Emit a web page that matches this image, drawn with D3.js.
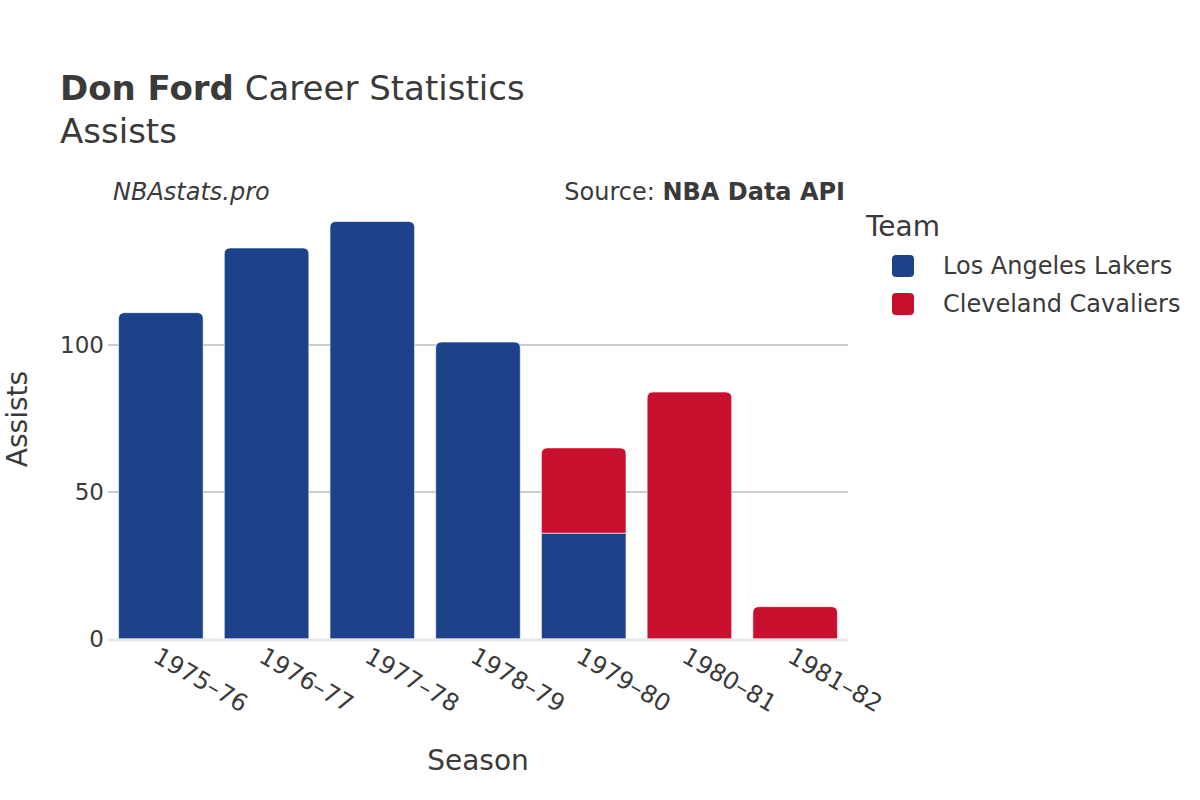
<!DOCTYPE html>
<html>
<head>
<meta charset="utf-8">
<script src="https://cdn.jsdelivr.net/npm/d3@7"></script>
<style>
  body { margin: 0; background: #fff; }
  text { font-family: "DejaVu Sans", sans-serif; fill: #3a3a3a; }
</style>
</head>
<body>
<div id="chart"></div>
<script>
var seasons = ['1975\u201376', '1976\u201377', '1977\u201378', '1978\u201379', '1979\u201380', '1980\u201381', '1981\u201382'];
var teams = ['Los Angeles Lakers', 'Cleveland Cavaliers'];
var teamColors = ['#1d428a', '#c8102e'];
var lakersAssists = [111, 133, 142, 101, 36, 0, 0];
var cavsAssists = [0, 0, 0, 0, 29, 84, 11];
var yTicks = [0, 50, 100];

(function() {
  var width = 1200, height = 800;
  var svg = d3.select('#chart').append('svg')
    .attr('width', width)
    .attr('height', height);

  var x = d3.scaleBand().domain(seasons).range([108, 848]).paddingInner(0.2).paddingOuter(0.1);
  var y = d3.scaleLinear().domain([0, 150]).range([639, 198]);

  // grid lines
  svg.append('g').selectAll('line')
    .data(yTicks.filter(function(d) { return d > 0 }))
    .enter().append('line')
    .attr('x1', 108).attr('x2', 848)
    .attr('y1', function(d) { return y(d) }).attr('y2', function(d) { return y(d) })
    .attr('stroke', '#999').attr('stroke-width', 1);

  // stack data
  var rows = seasons.map(function(s, i) {
    return { season: s, lakers: lakersAssists[i], cavs: cavsAssists[i] };
  });
  var stack = d3.stack().keys(['lakers', 'cavs'])(rows);

  function barPath(x0, w, yTop, yBot, r) {
    r = Math.min(r, (yBot - yTop), w / 2);
    return 'M' + x0 + ',' + yBot +
      'V' + (yTop + r) +
      'Q' + x0 + ',' + yTop + ' ' + (x0 + r) + ',' + yTop +
      'H' + (x0 + w - r) +
      'Q' + (x0 + w) + ',' + yTop + ' ' + (x0 + w) + ',' + (yTop + r) +
      'V' + yBot + 'Z';
  }

  stack.forEach(function(layer, li) {
    svg.append('g').selectAll('path')
      .data(layer.filter(function(d) { return d[1] > d[0] }))
      .enter().append('path')
      .attr('fill', teamColors[li])
      .attr('stroke', '#fff')
      .attr('stroke-width', 0.6)
      .attr('d', function(d) {
        var isTop = li === stack.length - 1 || d.data.cavs === 0;
        return barPath(x(d.data.season), x.bandwidth(), y(d[1]), y(d[0]), isTop ? 6 : 0);
      });
  });

  // baseline
  svg.append('line')
    .attr('x1', 108).attr('x2', 848)
    .attr('y1', y(0) + 1).attr('y2', y(0) + 1)
    .attr('stroke', '#e8e8e8').attr('stroke-width', 3);

  // y tick labels
  svg.append('g').selectAll('text')
    .data(yTicks)
    .enter().append('text')
    .attr('x', 104)
    .attr('y', function(d) { return y(d) + 8 })
    .attr('text-anchor', 'end')
    .style('font-size', '23px')
    .text(function(d) { return d });

  // x tick labels
  svg.append('g').selectAll('text')
    .data(seasons)
    .enter().append('text')
    .attr('transform', function(d) {
      return 'translate(' + (x(d) + x.bandwidth() / 2 - 9) + ',' + 661 + ') rotate(30)';
    })
    .style('font-size', '24px')
    .text(function(d) { return d });

  // axis titles
  svg.append('text')
    .attr('x', 478).attr('y', 770)
    .attr('text-anchor', 'middle')
    .style('font-size', '28px')
    .text('Season');

  svg.append('text')
    .attr('transform', 'translate(27,419) rotate(-90)')
    .attr('text-anchor', 'middle')
    .style('font-size', '28px')
    .text('Assists');

  // titles
  var title = svg.append('text').attr('x', 60).attr('y', 100).style('font-size', '34px');
  title.append('tspan').style('font-weight', 'bold').text('Don Ford');
  title.append('tspan').text(' Career Statistics');

  svg.append('text').attr('x', 60).attr('y', 143).style('font-size', '34px').text('Assists');

  svg.append('text')
    .attr('x', 113).attr('y', 200)
    .style('font-size', '24px').style('font-style', 'italic')
    .text('NBAstats.pro');

  var src = svg.append('text')
    .attr('x', 845).attr('y', 200)
    .attr('text-anchor', 'end')
    .style('font-size', '24px');
  src.append('tspan').text('Source: ');
  src.append('tspan').style('font-weight', 'bold').text('NBA Data API');

  // legend
  svg.append('text').attr('x', 866).attr('y', 236).style('font-size', '28px').text('Team');
  var legend = svg.append('g').selectAll('g')
    .data(teams)
    .enter().append('g')
    .attr('transform', function(d, i) { return 'translate(0,' + (i * 38) + ')' });
  legend.append('rect')
    .attr('x', 892).attr('y', 255)
    .attr('width', 22).attr('height', 22)
    .attr('rx', 4)
    .attr('fill', function(d, i) { return teamColors[i] });
  legend.append('text')
    .attr('x', 943).attr('y', 274)
    .style('font-size', '24px')
    .text(function(d) { return d });
})()
</script>
</body>
</html>
